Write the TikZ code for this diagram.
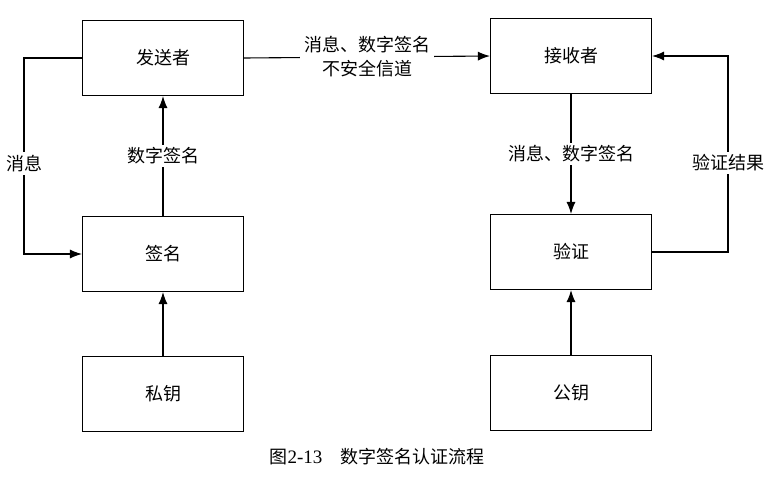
\documentclass[tikz,border=0pt]{standalone}
\usepackage{fontspec}
\setmainfont{Liberation Serif}
\newfontfamily\cjk{Noto Sans CJK SC}
\usetikzlibrary{arrows.meta}

\begin{document}
\begin{tikzpicture}[x = 1pt, y = -1pt, line width = 1.1pt,
        every node/.style={font = \cjk\fontsize{18}{24}\selectfont},
        box/.style={draw, minimum width = 161pt, minimum height = 75pt, inner sep = 0pt},
        tag/.style={fill = white, inner sep = 3pt, align = center},
        arr/.style={-{Latex[length = 12pt, width = 9pt]}}]

        \useasboundingbox (0, 0) rectangle (783, 479);

        % boxes
        \node [box] (send) at (163, 58) {发送者};
        \node [box] (recv) at (571, 56) {接收者};
        \node [box] (sign) at (163, 254) {签名};
        \node [box] (verify) at (571, 252) {验证};
        \node [box] (priv) at (163, 394) {私钥};
        \node [box] (pub) at (571, 393) {公钥};

        \coordinate (lbend) at (24, 58);
        \coordinate (rbend) at (728, 56);

        % connectors
        \draw [arr] (send.west) -- (lbend) |- (sign.west)
        node [tag, pos = 0.27] (msgtag) {消息};
        \draw [arr] (sign.north) -- (send.south)
        node [tag, midway] (sigtag) {数字签名};
        \draw [arr] (send.east) -- (recv.west)
        node [tag, midway, inner sep = 4pt] (chantag) {消息、数字签名\\不安全信道};
        \draw [arr] (recv.south) -- (verify.north)
        node [tag, midway] (rtag) {消息、数字签名};
        \draw [arr] (verify.east) -| (rbend) -- (recv.east);
        \node [tag] (restag) at (728, 163) {验证结果};

        \foreach \a/\b in {priv/sign, pub/verify} {
                \draw [arr] (\a.north) -- (\b.south);
            }

        \node [] (caption) at (377, 457) {{\cjk 图}{\rmfamily\fontsize{19}{22}\selectfont 2-13}\quad 数字签名认证流程};

    \end{tikzpicture}
\end{document}
